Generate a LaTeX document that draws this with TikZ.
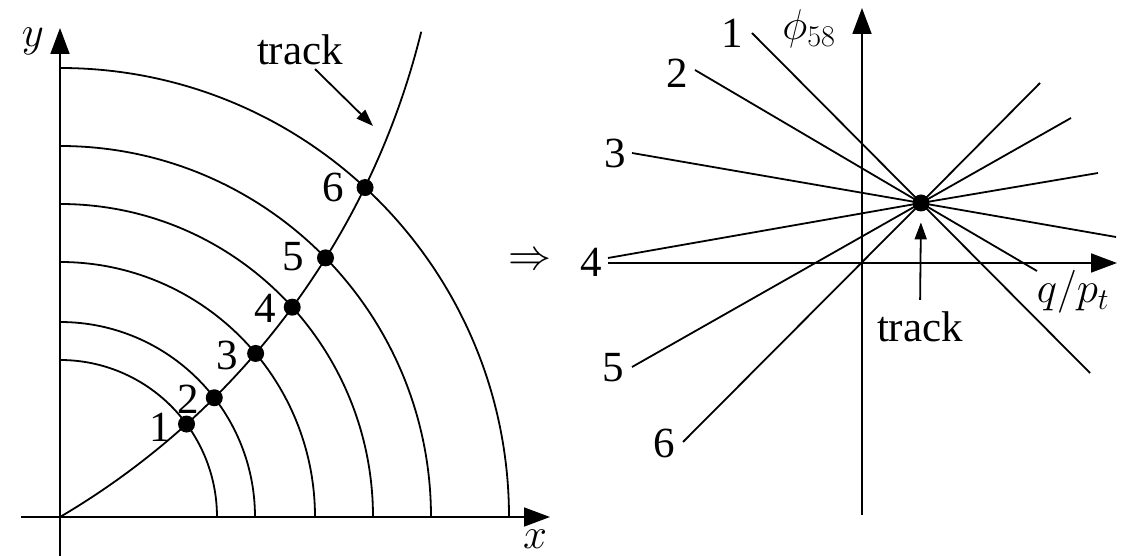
\RequirePackage{fix-cm}
\documentclass[tikz,border=0pt]{standalone}
\usepackage{fontspec}
\setmainfont{Liberation Serif}
\usetikzlibrary{arrows.meta,calc}
\begin{document}
\begin{tikzpicture}[x=1pt,y=1pt,
  line width=1.8pt,
  axis/.style={-{Triangle[length=26pt,width=19pt]}},
  ptr/.style={-{Triangle[length=17pt,width=12pt]}},
  dot/.style={circle,fill=black,inner sep=0pt,minimum size=17pt},
  lab/.style={inner sep=0pt,font=\fontsize{43}{47}\selectfont},
]
\useasboundingbox (0,0) rectangle (1127,556);
% ---------- left panel ----------
\coordinate (O) at (60,39);
\coordinate (xs) at (21,39);
\coordinate (xe) at (550,39);
\coordinate (ys) at (60,0);
\coordinate (ye) at (60,528);
\draw[axis] (xs) -- (xe);
\draw[axis] (ys) -- (ye);
\node[lab] (xl) at (535,17) {$x$};
\node[lab] (yl) at (33,515) {$y$};
\foreach \r in {157,195,255,313,371,449}
  \draw ([shift={(O)}]0:\r) arc[start angle=0,end angle=90,radius=\r];
\draw (O) arc[start angle=-59.52,end angle=-13.8,radius=778.6];
\foreach \a/\r/\i in {36.3/157/1,37.7/195/2,39.9/255/3,42.1/313/4,44.3/371/5,47.2/449/6}
  \node[dot] (d\i) at ([shift={(O)}]\a:\r) {};
\node[lab] (l1) at ($(d1)+(-26,-3)$) {1};
\node[lab] (l2) at ($(d2)+(-26,-2)$) {2};
\node[lab] (l3) at ($(d3)+(-28,-2)$) {3};
\node[lab] (l4) at ($(d4)+(-27,-1)$) {4};
\node[lab] (l5) at ($(d5)+(-32,1)$) {5};
\node[lab] (l6) at ($(d6)+(-32,0)$) {6};
\node[lab] (trk1) at (300,506) {track};
\coordinate (ta) at (373,430);
\draw[ptr] ([xshift=15pt,yshift=-3pt]trk1.south) -- (ta);
% ---------- arrow between ----------
\node[lab] (impl) at (530,294) {$\Rightarrow$};
% ---------- right panel ----------
\coordinate (hs) at (608,293);
\coordinate (he) at (1117,293);
\coordinate (vs) at (862,41);
\coordinate (ve) at (862,548);
\draw[axis] (hs) -- (he);
\draw[axis] (vs) -- (ve);
\coordinate (P) at (921,353);
\coordinate (a1) at (752,523); \coordinate (b1) at (1090,183);
\coordinate (a2) at (695,486); \coordinate (b2) at (1037,285);
\coordinate (a3) at (632,403); \coordinate (b3) at (1116,319);
\coordinate (a4) at (608,298); \coordinate (b4) at (1098,383);
\coordinate (a5) at (632,189); \coordinate (b5) at (1071,438);
\coordinate (a6) at (683,114); \coordinate (b6) at (1040,473);
\foreach \i in {1,...,6} \draw (a\i) -- (P) -- (b\i);
\node[dot] (c) at (P) {};
\node[lab] (r1) at (732,523) {1};
\node[lab] (r2) at (677,483) {2};
\node[lab] (r3) at (615,403) {3};
\node[lab] (r4) at (591,294) {4};
\node[lab] (r5) at (613,188) {5};
\node[lab] (r6) at (664,113) {6};
\node[lab] (phil) at (809,527) {$\phi_{58}$};
\node[lab] (qpl) at (1073,264) {$q/p_t$};
\node[lab] (trk2) at (920,229) {track};
\draw[ptr,shorten <=11pt,shorten >=10pt] (trk2.north) -- (c.south);
\end{tikzpicture}
\end{document}
